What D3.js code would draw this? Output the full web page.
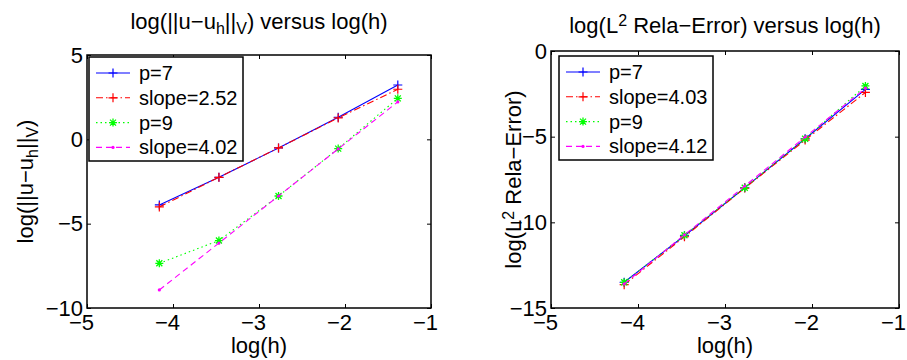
<!DOCTYPE html>
<html>
<head>
<meta charset="utf-8">
<script src="https://cdn.jsdelivr.net/npm/d3@7"></script>
<style>
  body { margin: 0; background: #fff; }
  svg { display: block; font-family: "Liberation Sans", Arial, Helvetica, sans-serif; }
</style>
</head>
<body>
<script>
// log(h) for h = 1/64 ... 1/4
var logh = [-4.159, -3.466, -2.773, -2.079, -1.386];

// left panel: log(||u-u_h||_V)
var leftP7 = [-3.89, -2.25, -0.51, 1.31, 3.22];
var leftFit7 = [-4.01, -2.25, -0.51, 1.27, 2.97];
var leftP9 = [-7.35, -6.0, -3.36, -0.55, 2.43];
var leftFit9 = [-8.93, -6.15, -3.36, -0.57, 2.22];
var leftLegend = ['p=7', 'slope=2.52', 'p=9', 'slope=4.02'];

// right panel: log(L2 relative error)
var rightP7 = [-13.5, -10.78, -7.98, -5.12, -2.24];
var rightFit7 = [-13.64, -10.84, -8.0, -5.2, -2.42];
var rightP9 = [-13.5, -10.75, -7.98, -5.12, -2.04];
var rightFit9 = [-13.59, -10.73, -7.88, -5.02, -2.17];
var rightLegend = ['p=7', 'slope=4.03', 'p=9', 'slope=4.12'];

var xTicks = [-5, -4, -3, -2, -1];
var leftYTicks = [-10, -5, 0, 5];
var rightYTicks = [-15, -10, -5, 0];

var w = 907, h = 360;
var svg = d3.select('body').append('svg')
  .attr('width', w)
  .attr('height', h);

// line styles in MATLAB order: 'b-+', 'r-.+', 'g:*', 'm--.'
var styles = [
  { color: '#0000ff', dash: null, marker: 'plus' },
  { color: '#ff0000', dash: '7,3,1.5,3', marker: 'plus' },
  { color: '#00ff00', dash: '1.5,3', marker: 'star' },
  { color: '#ff00ff', dash: '6,4', marker: 'dot' }
];

function drawMarker(g, kind, color, x, y) {
  if (kind === 'plus') {
    g.append('path')
      .attr('d', 'M' + (x - 4.5) + ',' + y + 'H' + (x + 4.5) + 'M' + x + ',' + (y - 4.5) + 'V' + (y + 4.5))
      .attr('stroke', color).attr('stroke-width', 1.2).attr('fill', 'none');
  } else if (kind === 'star') {
    var r = 4;
    var d = 'M' + (x - r) + ',' + y + 'H' + (x + r) + 'M' + x + ',' + (y - r) + 'V' + (y + r) +
      'M' + (x - r * 0.75) + ',' + (y - r * 0.75) + 'L' + (x + r * 0.75) + ',' + (y + r * 0.75) +
      'M' + (x - r * 0.75) + ',' + (y + r * 0.75) + 'L' + (x + r * 0.75) + ',' + (y - r * 0.75);
    g.append('path').attr('d', d)
      .attr('stroke', color).attr('stroke-width', 1.3).attr('fill', 'none');
  } else {
    g.append('circle').attr('cx', x).attr('cy', y).attr('r', 1.6).attr('fill', color);
  }
}

function drawPanel(p) {
  var x = d3.scaleLinear().domain([-5, -1]).range([p.left, p.right]);
  var y = d3.scaleLinear().domain(p.yDomain).range([p.bottom, p.top]);
  var g = svg.append('g');
  var fmt = d3.format('d');

  // axes with inward ticks on all sides
  var xb = g.append('g')
    .attr('transform', 'translate(0,' + p.bottom + ')')
    .call(d3.axisBottom(x).tickValues(xTicks).tickFormat(fmt).tickSizeInner(-4).tickSizeOuter(0).tickPadding(6));
  xb.selectAll('.tick text').attr('dx', -6);
  g.append('g')
    .attr('transform', 'translate(0,' + p.top + ')')
    .call(d3.axisTop(x).tickValues(xTicks).tickSizeInner(-4).tickSizeOuter(0).tickFormat(''));
  g.append('g')
    .attr('transform', 'translate(' + p.left + ',0)')
    .call(d3.axisLeft(y).tickValues(p.yTicks).tickFormat(fmt).tickSizeInner(-4).tickSizeOuter(0).tickPadding(4));
  g.append('g')
    .attr('transform', 'translate(' + p.right + ',0)')
    .call(d3.axisRight(y).tickValues(p.yTicks).tickSizeInner(-4).tickSizeOuter(0).tickFormat(''));

  g.selectAll('.domain').remove();
  g.selectAll('.tick line').attr('stroke', '#000').attr('stroke-width', 1);
  g.selectAll('.tick text').attr('font-size', 22).attr('fill', '#000')
    .attr('font-family', '"Liberation Sans", Arial, sans-serif');

  g.append('rect')
    .attr('x', p.left).attr('y', p.top)
    .attr('width', p.right - p.left).attr('height', p.bottom - p.top)
    .attr('fill', 'none').attr('stroke', '#000').attr('stroke-width', 1.5);

  // data series
  p.series.forEach(function (vals, i) {
    var st = styles[i];
    var line = d3.line()
      .x(function (d, j) { return x(logh[j]); })
      .y(function (d) { return y(d); });
    g.append('path')
      .datum(vals)
      .attr('d', line)
      .attr('fill', 'none')
      .attr('stroke', st.color)
      .attr('stroke-width', 1.1)
      .attr('stroke-dasharray', st.dash);
    vals.forEach(function (d, j) {
      drawMarker(g, st.marker, st.color, x(logh[j]), y(d));
    });
  });

  // legend
  var lg = g.append('g');
  lg.append('rect')
    .attr('x', p.legend.x).attr('y', p.legend.y)
    .attr('width', p.legend.w).attr('height', p.legend.h)
    .attr('fill', '#fff').attr('stroke', '#000').attr('stroke-width', 1.5);
  p.legendLabels.forEach(function (lab, i) {
    var st = styles[i];
    var ly = p.legend.y + 16 + i * 24.8;
    var lx0 = p.legend.x + 7, lx1 = p.legend.x + 41;
    lg.append('line')
      .attr('x1', lx0).attr('x2', lx1).attr('y1', ly).attr('y2', ly)
      .attr('stroke', st.color).attr('stroke-width', 1.1)
      .attr('stroke-dasharray', st.dash);
    drawMarker(lg, st.marker, st.color, (lx0 + lx1) / 2, ly);
    lg.append('text')
      .attr('x', p.legend.x + 50).attr('y', ly + 7)
      .attr('font-size', 20)
      .text(lab);
  });

  // title
  var t = g.append('text')
    .attr('x', (p.left + p.right) / 2).attr('y', p.titleY)
    .attr('text-anchor', 'middle').attr('font-size', 22);
  p.title(t);

  // x label
  g.append('text')
    .attr('x', (p.left + p.right) / 2).attr('y', 353)
    .attr('text-anchor', 'middle').attr('font-size', 22)
    .text('log(h)');

  // y label
  var yl = g.append('text')
    .attr('transform', 'translate(' + p.yLabelX + ',' + (p.top + p.bottom) / 2 + ') rotate(-90)')
    .attr('text-anchor', 'middle').attr('font-size', 22);
  p.yLabel(yl);
}

function normText(sel, s) { sel.append('tspan').text(s); }
function subText(sel, s) {
  sel.append('tspan').attr('baseline-shift', '-30%').attr('font-size', 16).text(s);
}
function supText(sel, s) {
  sel.append('tspan').attr('baseline-shift', '45%').attr('font-size', 16).text(s);
}

drawPanel({
  left: 87, right: 431, top: 55, bottom: 308,
  yDomain: [-10, 5], yTicks: leftYTicks,
  series: [leftP7, leftFit7, leftP9, leftFit9],
  legendLabels: leftLegend,
  legend: { x: 89, y: 57, w: 154, h: 104 },
  titleY: 29,
  yLabelX: 33,
  title: function (t) {
    normText(t, 'log(||u\u2212u'); subText(t, 'h'); normText(t, '||'); subText(t, 'V');
    normText(t, ') versus log(h)');
  },
  yLabel: function (t) {
    normText(t, 'log(||u\u2212u'); subText(t, 'h'); normText(t, '||'); subText(t, 'V');
    normText(t, ')');
  }
});

drawPanel({
  left: 551, right: 899, top: 51, bottom: 308,
  yDomain: [-15, 0], yTicks: rightYTicks,
  series: [rightP7, rightFit7, rightP9, rightFit9],
  legendLabels: rightLegend,
  legend: { x: 559, y: 56, w: 154, h: 104 },
  titleY: 33,
  yLabelX: 521,
  title: function (t) {
    normText(t, 'log(L'); supText(t, '2'); normText(t, ' Rela\u2212Error) versus log(h)');
  },
  yLabel: function (t) {
    normText(t, 'log(L'); supText(t, '2'); normText(t, ' Rela\u2212Error)');
  }
});
</script>
</body>
</html>
